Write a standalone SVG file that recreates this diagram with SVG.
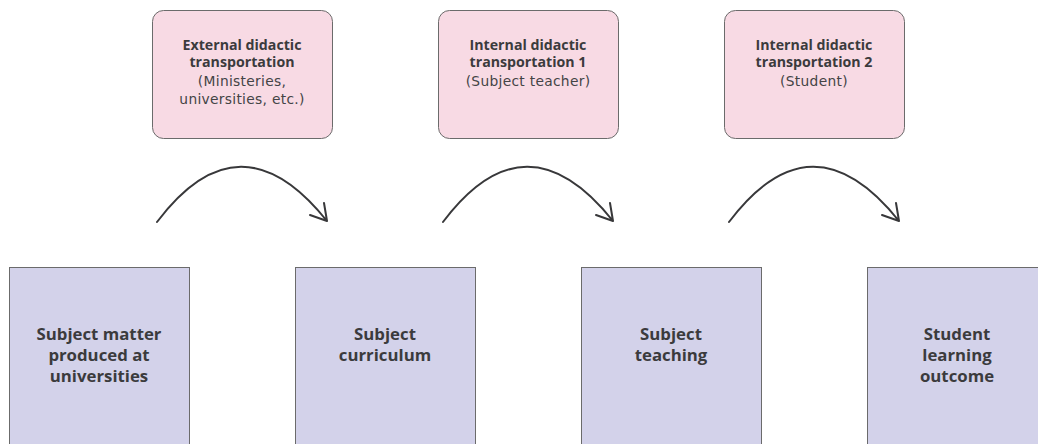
<svg xmlns="http://www.w3.org/2000/svg" width="1038" height="444" viewBox="0 0 1038 444">
<style>
.pink{fill:#f8dae4;stroke:#6b6b6b;stroke-width:1}
.blue{fill:#d3d2ea;stroke:#6b6b6b;stroke-width:1}
.t{font-family:"Open Sans","Liberation Sans",sans-serif;fill:#3b3b3d;text-anchor:middle}
.h{font-weight:bold;font-size:14.2px}
.s{font-family:"DejaVu Sans","Open Sans",sans-serif;font-size:13.8px;letter-spacing:0.3px;fill:#444446}
.b{font-weight:bold;font-size:16.8px}
.arc{fill:none;stroke:#38383a;stroke-width:2;stroke-linecap:round;stroke-linejoin:round}
</style>
<rect width="1038" height="444" fill="#ffffff"/>
<g id="ext">
<rect class="pink" x="152.5" y="10.5" width="180" height="128" rx="11"/>
<text class="t h" x="242" y="50">External didactic</text>
<text class="t h" x="242" y="67">transportation</text>
<text class="t s" x="242" y="86">(Ministeries,</text>
<text class="t s" x="242" y="104">universities, etc.)</text>
</g>
<g id="int1">
<rect class="pink" x="438.5" y="10.5" width="180" height="128" rx="11"/>
<text class="t h" x="528" y="50">Internal didactic</text>
<text class="t h" x="528" y="67">transportation 1</text>
<text class="t s" x="528" y="86">(Subject teacher)</text>
</g>
<g id="int2">
<rect class="pink" x="724.5" y="10.5" width="180" height="128" rx="11"/>
<text class="t h" x="814" y="50">Internal didactic</text>
<text class="t h" x="814" y="67">transportation 2</text>
<text class="t s" x="814" y="86">(Student)</text>
</g>
<g id="matter">
<rect class="blue" x="9.5" y="267.5" width="180" height="190"/>
<text class="t b" x="99" y="340">Subject matter</text>
<text class="t b" x="99" y="361">produced at</text>
<text class="t b" x="99" y="382">universities</text>
</g>
<g id="curriculum">
<rect class="blue" x="295.5" y="267.5" width="180" height="190"/>
<text class="t b" x="385" y="340">Subject</text>
<text class="t b" x="385" y="361">curriculum</text>
</g>
<g id="teaching">
<rect class="blue" x="581.5" y="267.5" width="180" height="190"/>
<text class="t b" x="671" y="340">Subject</text>
<text class="t b" x="671" y="361">teaching</text>
</g>
<g id="outcome">
<rect class="blue" x="867.5" y="267.5" width="180" height="190"/>
<text class="t b" x="957" y="340">Student</text>
<text class="t b" x="957" y="361">learning</text>
<text class="t b" x="957" y="382">outcome</text>
</g>
<g id="connectors">
<path class="arc" d="M157 222 Q240 112 327 221 M324 203 L327 221 L310 215"/>
<path class="arc" d="M443 222 Q526 112 613 221 M610 203 L613 221 L596 215"/>
<path class="arc" d="M729 222 Q812 112 899 221 M896 203 L899 221 L882 215"/>
</g>
</svg>
